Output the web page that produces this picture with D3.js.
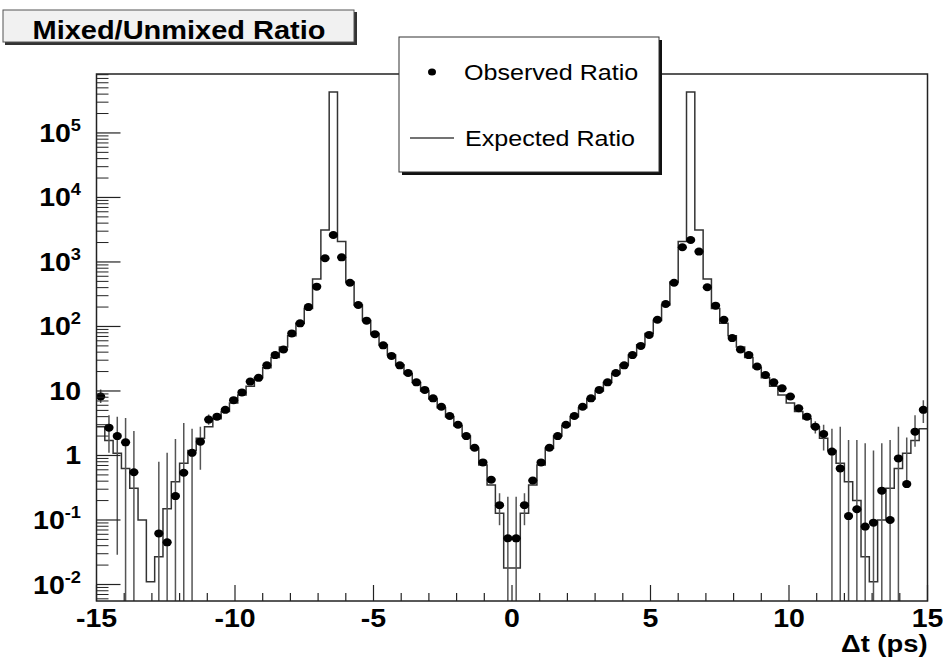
<!DOCTYPE html>
<html><head><meta charset="utf-8">
<script src="https://cdn.jsdelivr.net/npm/d3@7"></script>
<style>
body{margin:0;background:#fff}
text{font-family:"Liberation Sans",Arial,Helvetica,sans-serif;fill:#000}
</style>
</head><body>
<svg id="c" width="943" height="658"></svg>
<script>
// ---------------- data ----------------
const nBins = 100, xLow = -15, xHigh = 15;
const titleText = "Mixed/Unmixed Ratio";
const xTitle = "\u0394t (ps)";
const legendLabels = ["Observed Ratio", "Expected Ratio"];
const xTickLabels = [-15, -10, -5, 0, 5, 10, 15];
const yDecades = [-2, -1, 0, 1, 2, 3, 4, 5];

// observed ratio per bin (null = empty bin)
const observed = [
  8.2, 2.7, 2.0, 1.6, 0.55, null, null, 0.062, 0.045, 0.235,
  0.54, 1.1, 1.64, 3.6, 4.0, 5.1, 7.2, 9.5, 14, 16,
  25, 36, 44, 78, 112, 200, 414, 1140, 2620, 1180,
  476, 215, 123, 76, 51, 35, 25, 19, 13.6, 10.4,
  7.7, 5.7, 4.1, 3.0, 2.0, 1.32, 0.78, 0.42, 0.17, 0.052,
  0.052, 0.17, 0.41, 0.78, 1.32, 2.0, 3.0, 4.1, 5.7, 7.7,
  10.4, 13.6, 19, 25, 36, 50, 74, 127, 223, 476,
  1690, 2190, 1450, 405, 210, 127, 66, 44, 36, 24,
  17.7, 13.6, 11, 8.2, 5.4, 4.0, 2.8, 2.15, 1.15, 0.63,
  0.115, 0.147, 0.079, 0.091, 0.285, 0.1, 0.9, 0.36, 2.34, 5.1
];

// expected ratio per bin
const expected = [
  2.8, 1.7, 1.08, 0.63, 0.31, 0.1, 0.011, 0.027, 0.15, 0.39,
  0.76, 1.2, 1.85, 2.8, 3.7, 4.8, 6.5, 8.7, 11.8, 16,
  23, 33, 48, 72, 112, 190, 545, 3130, 430000, 2070,
  490, 215, 124, 78, 52, 36, 25.5, 18.5, 13.5, 10,
  7.5, 5.5, 4.0, 2.9, 2.0, 1.3, 0.71, 0.35, 0.127, 0.018,
  0.018, 0.127, 0.35, 0.71, 1.3, 2.0, 2.9, 4.0, 5.5, 7.5,
  10, 13.5, 18.5, 25.5, 36, 52, 78, 124, 215, 490,
  2070, 430000, 3130, 545, 190, 112, 72, 48, 33, 23,
  16, 11.8, 8.7, 6.5, 4.8, 3.7, 2.8, 1.85, 1.2, 0.76,
  0.39, 0.2, 0.027, 0.011, 0.1, 0.31, 0.63, 1.08, 1.7, 2.6
];

// visible error bars of observed points (lo = 0 -> extends below the axis)
const errBins = [0, 1, 2, 3, 4, 7, 8, 9, 10, 11, 12, 13, 48, 49, 50, 51,
                 86, 87, 88, 89, 90, 91, 92, 93, 94, 95, 96, 97, 98, 99];
const errLo   = [6.5, 1.1, 0.029, 0, 0, 0, 0, 0, 0, 0, 0.6, 3.0, 0.083, 0, 0, 0.083,
                 2.2, 1.2, 0, 0, 0, 0, 0, 0, 0, 0, 0, 0.33, 1.37, 3.2];
const errHi   = [10.5, 4.2, 4.0, 3.8, 2.4, 0.8, 1.1, 1.8, 3.2, 2.6, 2.8, 4.3, 0.26, 0.23, 0.23, 0.26,
                 3.4, 3.0, 2.6, 2.8, 1.74, 1.74, 1.55, 1.2, 1.55, 1.74, 2.8, 1.9, 4.2, 7.2];

// ---------------- layout ----------------
const svg = d3.select("#c");
const L = 96.5, R = 927.5, T = 74, B = 601;
const SX = 1.14; // horizontal text stretch of the original
const x = d3.scaleLinear().domain([xLow, xHigh]).range([L, R]);
const y = d3.scaleLog().domain([0.00555, 8.2e5]).range([B, T]);
const bw = (xHigh - xLow) / nBins;
const edge = i => xLow + i * bw;
const center = i => xLow + (i + 0.5) * bw;

function stext(g, px, py, str, size, weight, anchor) {
  return g.append("text")
    .attr("transform", `translate(${px},${py}) scale(${SX},1)`)
    .attr("font-size", size).attr("font-weight", weight || "normal")
    .attr("text-anchor", anchor || "start").text(str);
}

svg.append("defs").append("clipPath").attr("id", "fr")
  .append("rect").attr("x", L).attr("y", T).attr("width", R - L).attr("height", B - T);

// ---------------- histogram (expected) ----------------
const pts = [];
expected.forEach((v, i) => { pts.push([edge(i), v]); pts.push([edge(i + 1), v]); });
const line = d3.line().x(d => x(d[0])).y(d => y(d[1]));
const plot = svg.append("g").attr("clip-path", "url(#fr)");
plot.append("path").attr("d", line(pts)).attr("fill", "none")
  .attr("stroke", "#333").attr("stroke-width", 1.5).attr("stroke-linejoin", "miter");

// ---------------- error bars ----------------
errBins.forEach((b, k) => {
  const lo = errLo[k] > 0 ? y(errLo[k]) : B + 2;
  plot.append("line").attr("x1", x(center(b))).attr("x2", x(center(b)))
    .attr("y1", y(errHi[k])).attr("y2", lo)
    .attr("stroke", "#555").attr("stroke-width", 1.5);
});

// ---------------- points ----------------
observed.forEach((v, i) => {
  if (v == null) return;
  plot.append("ellipse").attr("cx", x(center(i))).attr("cy", y(v))
    .attr("rx", 4.6).attr("ry", 4).attr("fill", "#000");
});

// ---------------- frame & axes ----------------
svg.append("rect").attr("x", L).attr("y", T).attr("width", R - L).attr("height", B - T)
  .attr("fill", "none").attr("stroke", "#222").attr("stroke-width", 1.5);

const ax = svg.append("g");
for (let v = xLow; v <= xHigh; v++) {
  const major = v % 5 === 0;
  ax.append("line").attr("x1", x(v)).attr("x2", x(v))
    .attr("y1", B).attr("y2", B - (major ? 16 : 8))
    .attr("stroke", "#222").attr("stroke-width", 1.2);
}
xTickLabels.forEach(v => stext(ax, x(v), B + 26, String(v), 25, "bold", "middle"));
stext(ax, R, 652, xTitle, 24, "bold", "end");

yDecades.forEach(k => {
  const v = Math.pow(10, k);
  ax.append("line").attr("x1", L).attr("x2", L + 24).attr("y1", y(v)).attr("y2", y(v))
    .attr("stroke", "#222").attr("stroke-width", 1.2);
  const t = ax.append("text")
    .attr("transform", `translate(81,${y(v) + 9}) scale(${SX},1)`)
    .attr("font-size", 25).attr("font-weight", "bold").attr("text-anchor", "end");
  if (k === 0) t.text("1");
  else if (k === 1) t.text("10");
  else {
    t.append("tspan").text("10");
    t.append("tspan").attr("font-size", 16).attr("dy", -11).text(String(k));
  }
});
const yd = y.domain();
for (let k = -3; k <= 5; k++) {
  for (let m = 2; m <= 9; m++) {
    const v = m * Math.pow(10, k);
    if (v < yd[0] || v > yd[1]) continue;
    ax.append("line").attr("x1", L).attr("x2", L + 12).attr("y1", y(v)).attr("y2", y(v))
      .attr("stroke", "#222").attr("stroke-width", 1);
  }
}

// ---------------- title box ----------------
const tb = svg.append("g");
tb.append("rect").attr("x", 5).attr("y", 12).attr("width", 352).attr("height", 33).attr("fill", "#333");
tb.append("rect").attr("x", 3).attr("y", 10).attr("width", 351).attr("height", 32)
  .attr("fill", "#f1f1f1").attr("stroke", "#555").attr("stroke-width", 1);
tb.append("text").attr("x", 179).attr("y", 39).attr("font-size", 26).attr("font-weight", "bold")
  .attr("text-anchor", "middle").attr("textLength", 293).attr("lengthAdjust", "spacingAndGlyphs")
  .text(titleText);

// ---------------- legend ----------------
const lg = svg.append("g");
lg.append("rect").attr("x", 402).attr("y", 40).attr("width", 260).attr("height", 135).attr("fill", "#111");
lg.append("rect").attr("x", 399).attr("y", 37).attr("width", 260).attr("height", 135)
  .attr("fill", "#fff").attr("stroke", "#333").attr("stroke-width", 1);
lg.append("ellipse").attr("cx", 432).attr("cy", 72).attr("rx", 4).attr("ry", 3.5).attr("fill", "#000");
stext(lg, 464, 80, legendLabels[0], 22, "normal", "start");
lg.append("line").attr("x1", 410).attr("x2", 454).attr("y1", 138).attr("y2", 138)
  .attr("stroke", "#444").attr("stroke-width", 1.5);
stext(lg, 465, 146, legendLabels[1], 22, "normal", "start");
</script>
</body></html>
